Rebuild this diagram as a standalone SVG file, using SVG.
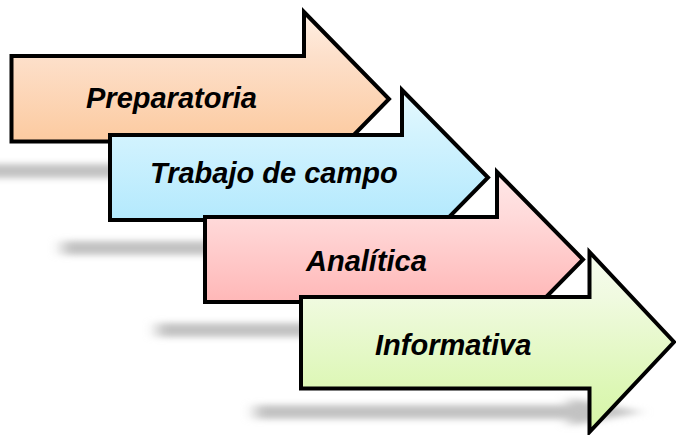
<svg xmlns="http://www.w3.org/2000/svg" width="676" height="435" viewBox="0 0 676 435">
  <style>
    .arrow { stroke: #000; stroke-width: 4; stroke-linejoin: miter; }
    .label { font-family: "Liberation Sans", Arial, sans-serif; font-weight: bold; font-style: italic; font-size: 29px; fill: #000; }
    .shadow { fill: #c2c2c2; filter: url(#blur); }
  </style>
  <defs>
    <filter id="blur" x="-20%" y="-200%" width="140%" height="500%">
      <feGaussianBlur stdDeviation="7 3"/>
    </filter>
    <linearGradient id="g1" x1="0" y1="0" x2="0" y2="1">
      <stop offset="0" stop-color="#fff0e4"/>
      <stop offset="0.25" stop-color="#fde0cb"/>
      <stop offset="0.75" stop-color="#fcca9f"/>
      <stop offset="1" stop-color="#fbc294"/>
    </linearGradient>
    <linearGradient id="g2" x1="0" y1="0" x2="0" y2="1">
      <stop offset="0" stop-color="#e6f9fe"/>
      <stop offset="0.25" stop-color="#d3f3fe"/>
      <stop offset="0.75" stop-color="#b3e9fd"/>
      <stop offset="1" stop-color="#a8e5fc"/>
    </linearGradient>
    <linearGradient id="g3" x1="0" y1="0" x2="0" y2="1">
      <stop offset="0" stop-color="#ffe8e8"/>
      <stop offset="0.25" stop-color="#ffdada"/>
      <stop offset="0.75" stop-color="#ffb7b7"/>
      <stop offset="1" stop-color="#ffadad"/>
    </linearGradient>
    <linearGradient id="g4" x1="0" y1="0" x2="0" y2="1">
      <stop offset="0" stop-color="#f6fcee"/>
      <stop offset="0.25" stop-color="#f0fae0"/>
      <stop offset="0.75" stop-color="#ddf7b6"/>
      <stop offset="1" stop-color="#d6f5a6"/>
    </linearGradient>
  </defs>
  <rect width="676" height="435" fill="#fff"/>
  <g id="shadows">
    <polygon class="shadow" points="-35,164 284,164 284,158 349,171 284,184 284,178 -35,178"/>
    <polygon class="shadow" points="62,241 382,241 382,235 448,248 382,261 382,255 62,255"/>
    <polygon class="shadow" points="157,323 477,323 477,317 543,330 477,343 477,337 157,337"/>
    <polygon class="shadow" points="255,405 569,405 569,398 642,412 569,426 569,419 255,419"/>
  </g>
  <g id="connectors"></g>
  <g id="preparatoria">
    <polygon class="arrow" fill="url(#g1)" points="11.5,56 304,56 304,12 389,99 304,186 304,141.5 11.5,141.5"/>
    <text class="label" x="86" y="108">Preparatoria</text>
  </g>
  <g id="trabajo-de-campo">
    <polygon class="arrow" fill="url(#g2)" points="110,135 402,135 402,90 488,177.5 402,265 402,220 110,220"/>
    <text class="label" x="150" y="183">Trabajo de campo</text>
  </g>
  <g id="analitica">
    <polygon class="arrow" fill="url(#g3)" points="205,217 497,217 497,172 583,259.5 497,347 497,302 205,302"/>
    <text class="label" x="306" y="271">Analítica</text>
  </g>
  <g id="informativa">
    <polygon class="arrow" fill="url(#g4)" points="301,297 589.5,297 589.5,252 674,342 589.5,432 589.5,388.5 301,388.5"/>
    <text class="label" x="375" y="355">Informativa</text>
  </g>
</svg>
